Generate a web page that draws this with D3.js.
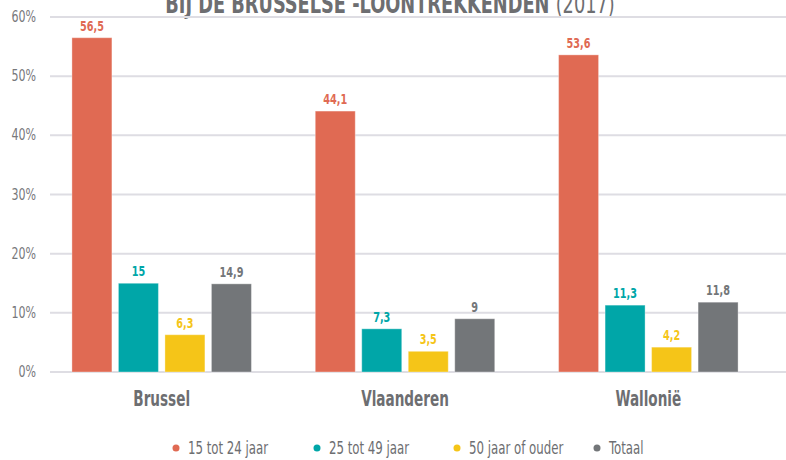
<!DOCTYPE html>
<html>
<head>
<meta charset="utf-8">
<script src="https://cdn.jsdelivr.net/npm/d3@7"></script>
<style>
  body { margin: 0; background: #fff; }
  svg { display: block; font-family: "DejaVu Sans Condensed", "DejaVu Sans", sans-serif; }
</style>
</head>
<body>
<div id="chart"></div>
<script>
// Data
const regions = ["Brussel", "Vlaanderen", "Wallonië"];
const series = ["15 tot 24 jaar", "25 tot 49 jaar", "50 jaar of ouder", "Totaal"];
const colors = ["#e06a53", "#00a6a8", "#f5c518", "#737679"];
const values = [
    [56.5, 15, 6.3, 14.9],
    [44.1, 7.3, 3.5, 9],
    [53.6, 11.3, 4.2, 11.8]
];
const yTicks = [0, 10, 20, 30, 40, 50, 60];

const width = 786;
const height = 460;

// No narrow font available, so squeeze text horizontally
const squeeze = (x, y, sx) => `translate(${x},${y}) scale(${sx},1)`;

const svg = d3.select("#chart").append("svg")
    .attr("width", width)
    .attr("height", height);

// Title (cut off at the top, as in the original)
const title = svg.append("text")
    .attr("transform", squeeze(390, 13, 0.76))
    .attr("text-anchor", "middle")
    .style("font-size", "26px")
    .style("font-weight", "bold")
    .attr("fill", "#6d6e71");
title.append("tspan").text("BIJ DE BRUSSELSE -LOONTREKKENDEN ");
title.append("tspan").style("font-weight", "normal").text("(2017)");

// Scales
const x0 = d3.scaleBand()
    .domain(regions)
    .range([40, 770])
    .padding(0);

const x1 = d3.scaleBand()
    .domain(series)
    .range([-93, 93])
    .paddingInner(0.14)
    .paddingOuter(0.07);

const y = d3.scaleLinear()
    .domain([0, 60])
    .range([372, 17]);

// Gridlines
svg.append("g")
    .selectAll("line")
    .data(yTicks)
    .enter().append("line")
    .attr("x1", 50)
    .attr("x2", width)
    .attr("y1", d => y(d))
    .attr("y2", d => y(d))
    .attr("stroke", "#dedde3")
    .attr("stroke-width", 2);

// Y-axis labels
svg.append("g")
    .selectAll("text")
    .data(yTicks)
    .enter().append("text")
    .attr("transform", d => squeeze(36, y(d) + 5, 0.82))
    .attr("text-anchor", "end")
    .attr("fill", "#77787b")
    .style("font-size", "15px")
    .text(d => d + "%");

// Bars
const groups = svg.append("g")
    .selectAll("g")
    .data(regions)
    .enter().append("g")
    .attr("transform", d => `translate(${x0(d) + x0.bandwidth() / 2},0)`);

const barData = (d, i) => values[i].map((v, j) => ({ key: series[j], value: v, color: colors[j] }));

groups.selectAll("rect")
    .data(barData)
    .enter().append("rect")
    .attr("x", d => x1(d.key))
    .attr("y", d => y(d.value))
    .attr("width", x1.bandwidth())
    .attr("height", d => y(0) - y(d.value))
    .attr("fill", d => d.color)
    .attr("stroke", "#ffffff")
    .attr("stroke-opacity", 0.35)
    .attr("stroke-width", 1);

// Value labels
groups.selectAll("text")
    .data(barData)
    .enter().append("text")
    .attr("transform", d => squeeze(x1(d.key) + x1.bandwidth() / 2, y(d.value) - 7, 0.8))
    .attr("text-anchor", "middle")
    .attr("fill", d => d.color)
    .style("font-size", "13.5px")
    .style("font-weight", "bold")
    .text(d => String(d.value).replace(".", ","));

// Category labels
svg.append("g")
    .selectAll("text")
    .data(regions)
    .enter().append("text")
    .attr("transform", d => squeeze(x0(d) + x0.bandwidth() / 2, 406, 0.72))
    .attr("text-anchor", "middle")
    .attr("fill", "#6d6e71")
    .style("font-size", "21px")
    .style("font-weight", "bold")
    .text(d => d);

// Legend
const legendX = [176, 317, 457, 597];
const legend = svg.append("g")
    .selectAll("g")
    .data(series)
    .enter().append("g")
    .attr("transform", (d, i) => `translate(${legendX[i]},448)`);

legend.append("circle")
    .attr("r", 3.5)
    .attr("fill", (d, i) => colors[i]);

legend.append("text")
    .attr("transform", squeeze(12, 6, 0.77))
    .attr("fill", "#6d6e71")
    .style("font-size", "17px")
    .text(d => d);
</script>
</body>
</html>
